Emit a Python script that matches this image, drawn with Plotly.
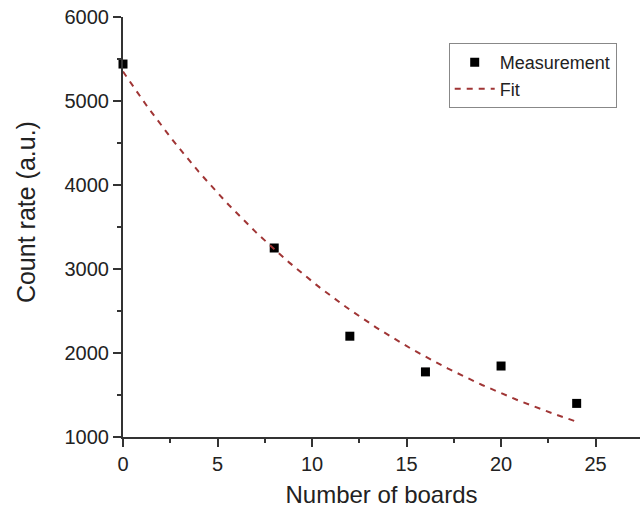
import numpy as np
import plotly.graph_objects as go

# Measured count rate versus number of boards
boards = [0, 8, 12, 16, 20, 24]
count_rate = [5440, 3250, 2200, 1775, 1845, 1400]

# Exponential fit parameters: rate = A * exp(-k * n)
fit_A = 5350.0
fit_k = 0.0629
fit_x = np.linspace(0, 24, 121)
fit_y = fit_A * np.exp(-fit_k * fit_x)

x_ticks = [0, 5, 10, 15, 20, 25]
y_ticks = [1000, 2000, 3000, 4000, 5000, 6000]

fig = go.Figure()
fig.add_trace(go.Scatter(
    x=boards, y=count_rate, mode="markers", name="Measurement",
    marker=dict(symbol="square", size=9, color="black"),
    cliponaxis=False,
))
fig.add_trace(go.Scatter(
    x=fit_x, y=fit_y, mode="lines", name="Fit",
    line=dict(color="#a03535", width=2, dash="6px,6px"),
))

font_family = "Liberation Sans, Arial, sans-serif"
axis_common = dict(
    showline=True, linecolor="#333333", linewidth=2,
    ticks="outside", ticklen=8, tickwidth=1.5, tickcolor="#333333",
    showgrid=False, zeroline=False,
    tickfont=dict(family=font_family, size=20, color="#222222"),
    minor=dict(ticks="outside", ticklen=4, tickwidth=1.5, tickcolor="#333333"),
)

fig.update_layout(
    width=640, height=512,
    margin=dict(l=123, r=0, t=17, b=75),
    plot_bgcolor="white", paper_bgcolor="white",
    xaxis=dict(
        range=[0, 27.35], tickvals=x_ticks,
        title=dict(text="Number of boards", font=dict(family=font_family, size=24, color="#222222"), standoff=12),
        **axis_common,
    ),
    yaxis=dict(range=[1000, 6000], tickvals=y_ticks, **axis_common),
    legend=dict(
        x=0.63, y=0.938, xanchor="left", yanchor="top",
        bordercolor="#888888", borderwidth=1, bgcolor="white",
        font=dict(family=font_family, size=18, color="#222222"),
        tracegroupgap=0, itemwidth=40,
    ),
    showlegend=True,
)

# Y-axis title placed as a rotated annotation
fig.add_annotation(
    text="Count rate (a.u.)", textangle=-90,
    xref="paper", yref="paper", x=-0.188, y=0.535,
    xanchor="center", yanchor="middle", showarrow=False,
    font=dict(family=font_family, size=25, color="#222222"),
)

fig.update_xaxes(minor_dtick=2.5)
fig.update_yaxes(minor_dtick=500)

fig.write_html("out.html")
